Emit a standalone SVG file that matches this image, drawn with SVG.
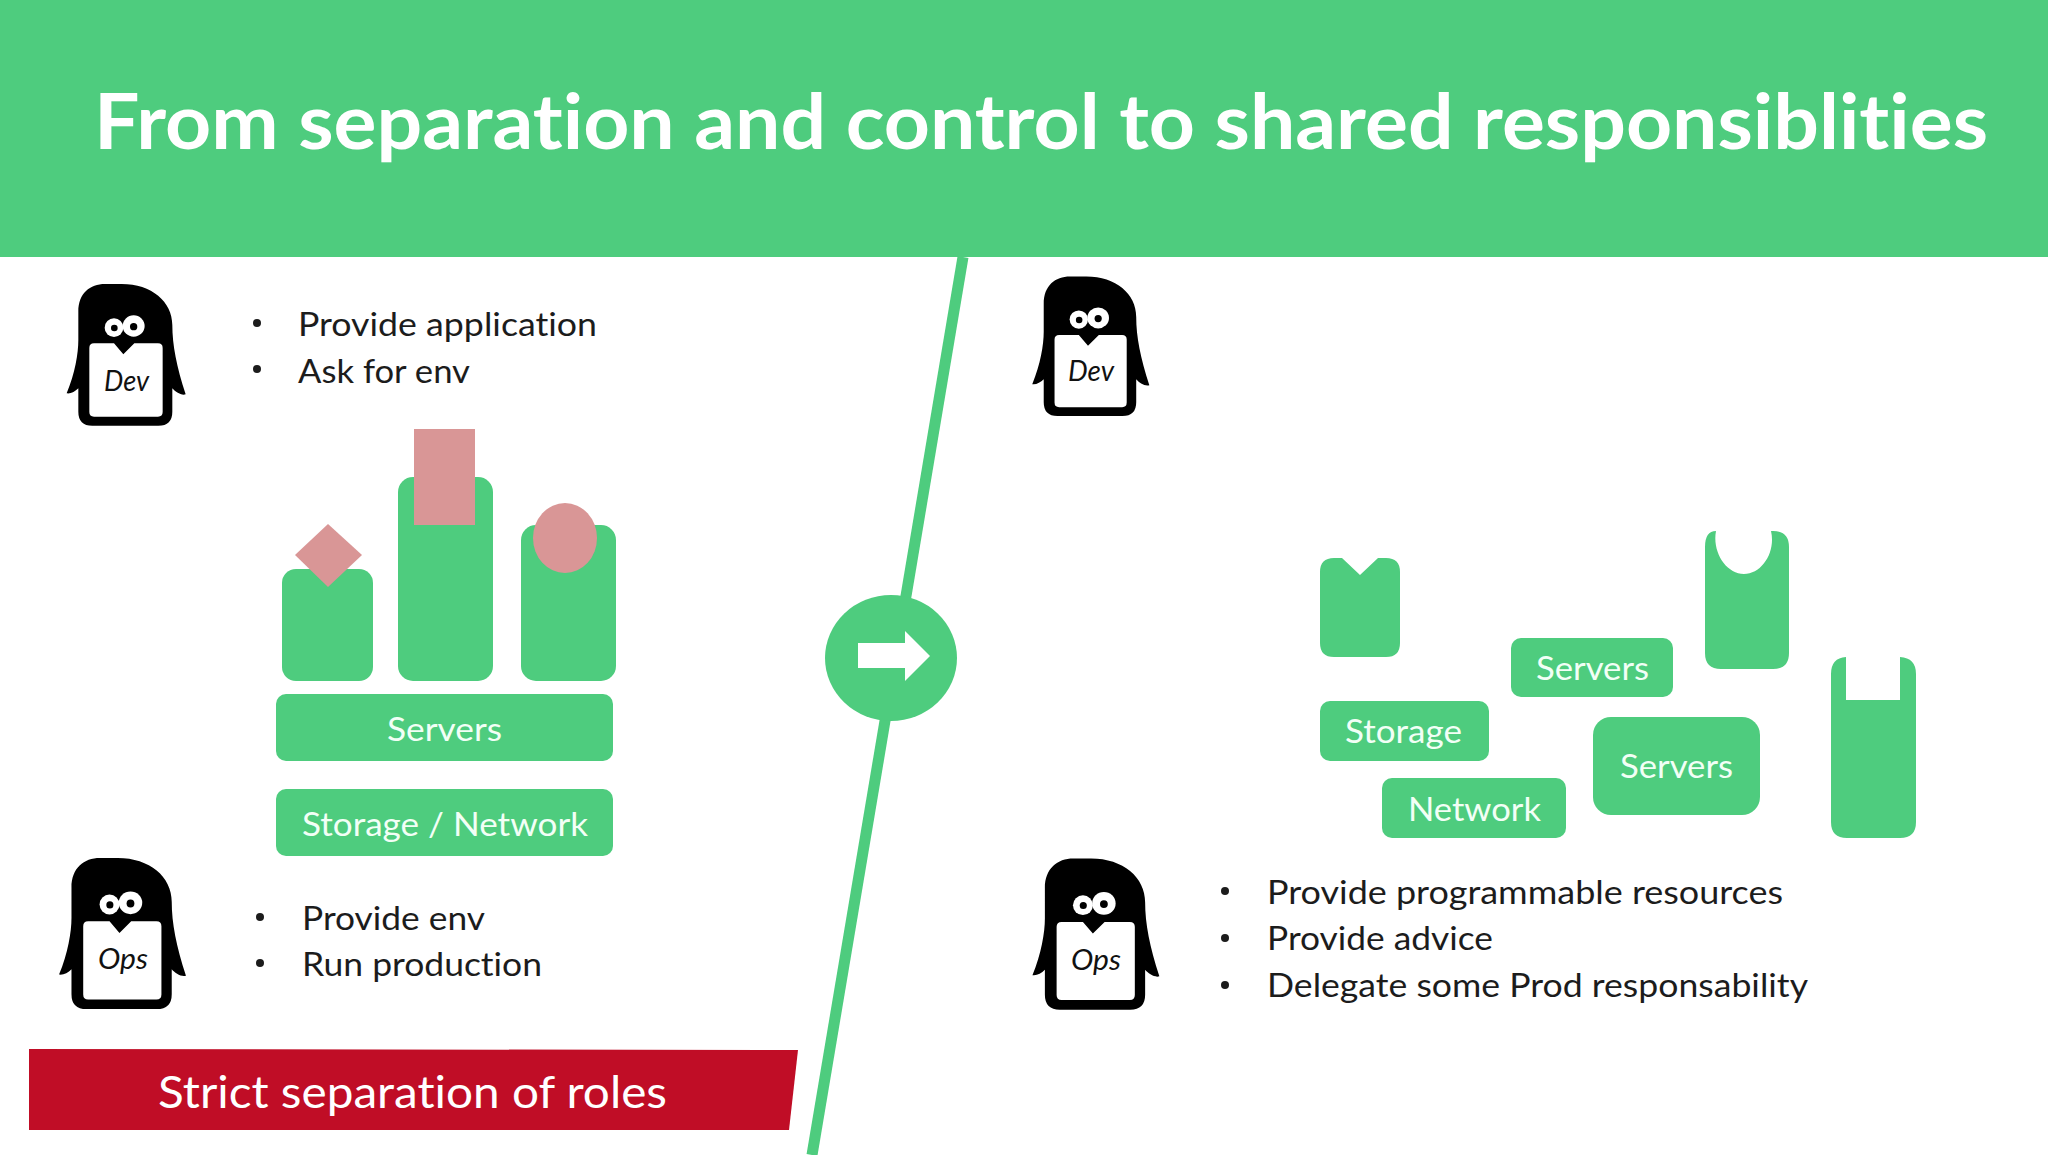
<svg xmlns="http://www.w3.org/2000/svg" xmlns:xlink="http://www.w3.org/1999/xlink" width="2048" height="1155" viewBox="0 0 2048 1155">
<style>
text{font-family:"Lato","Noto Sans",sans-serif;font-variant-ligatures:none;}
.g{fill:#4ecc7e;}
.p{fill:#d99696;}
.l{font-size:33px;fill:#1c1c1c;}
.w{font-size:33px;fill:#f2fff6;}
.n{font-size:29px;font-style:italic;fill:#111;}
</style>
<defs>
<g id="penguin">
<path fill="#000" d="M115 155C115 100 150 72 195 72L245 72C335 72 397 125 397 195C397 255 410 320 437 403C425 408 405 395 397 385L397 455Q397 497 355 497L157 497Q115 497 115 455L115 385C105 395 92 402 80 400C105 340 115 280 115 240Z"/>
<path fill="#fff" d="M148 264Q148 250 162 250L222 250L250 283L283 250L354 250Q368 250 368 264L368 456Q368 470 354 470L162 470Q148 470 148 456Z"/>
<ellipse fill="#fff" cx="222" cy="203" rx="28" ry="28"/>
<ellipse fill="#fff" cx="281" cy="198" rx="33" ry="32"/>
<circle fill="#000" cx="223" cy="204" r="10"/>
<circle fill="#000" cx="281" cy="200" r="11"/>
</g>
</defs>
<rect width="2048" height="1155" fill="#fff"/>
<g id="header">
<rect class="g" width="2048" height="257"/>
<text x="94" y="149" font-size="77" font-weight="700" fill="#fff" textLength="1894" lengthAdjust="spacingAndGlyphs">From separation and control to shared responsiblities</text>
</g>
<g id="connectors">
<line x1="963" y1="257" x2="812" y2="1155" stroke="#4ecc7e" stroke-width="11"/>
</g>
<g id="transition">
<ellipse class="g" cx="891" cy="658" rx="66" ry="63"/>
<polygon fill="#fff" points="858,643 905,643 905,631 930,656 905,681 905,668 858,668"/>
</g>
<g id="dev-left">
<use xlink:href="#penguin" href="#penguin" transform="translate(40,260) scale(0.3333)"/>
<text class="n" x="104" y="391" textLength="45" lengthAdjust="spacingAndGlyphs">Dev</text>
</g>
<g id="dev-left-list">
<circle cx="257" cy="323" r="4" fill="#1c1c1c"/>
<text class="l" x="298" y="336" textLength="299" lengthAdjust="spacingAndGlyphs">Provide application</text>
<circle cx="257" cy="369" r="4" fill="#1c1c1c"/>
<text class="l" x="298" y="383" textLength="172" lengthAdjust="spacingAndGlyphs">Ask for env</text>
</g>
<g id="app-small">
<rect class="g" x="282" y="569" width="91" height="112" rx="14"/>
<polygon class="p" points="328,524 362,555 328,587 295,555"/>
</g>
<g id="app-tall">
<rect class="g" x="398" y="477" width="95" height="204" rx="15"/>
<rect class="p" x="414" y="429" width="61" height="96"/>
</g>
<g id="app-medium">
<rect class="g" x="521" y="525" width="95" height="156" rx="15"/>
<ellipse class="p" cx="565" cy="538" rx="32" ry="35"/>
</g>
<g id="servers-left">
<rect class="g" x="276" y="694" width="337" height="67" rx="10"/>
<text class="w" x="387" y="741" textLength="115" lengthAdjust="spacingAndGlyphs">Servers</text>
</g>
<g id="storage-network-left">
<rect class="g" x="276" y="789" width="337" height="67" rx="10"/>
<text class="w" x="302" y="836" textLength="286" lengthAdjust="spacingAndGlyphs">Storage / Network</text>
</g>
<g id="ops-left">
<use xlink:href="#penguin" href="#penguin" transform="translate(30.6,832.4) scale(0.3555)"/>
<text class="n" x="98" y="969" textLength="50" lengthAdjust="spacingAndGlyphs">Ops</text>
</g>
<g id="ops-left-list">
<circle cx="260" cy="917" r="4" fill="#1c1c1c"/>
<text class="l" x="302" y="930" textLength="183" lengthAdjust="spacingAndGlyphs">Provide env</text>
<circle cx="260" cy="963" r="4" fill="#1c1c1c"/>
<text class="l" x="302" y="976" textLength="240" lengthAdjust="spacingAndGlyphs">Run production</text>
</g>
<g id="banner">
<polygon fill="#c00d26" points="29,1049 798,1050 789,1130 29,1130"/>
<text x="158" y="1108" font-size="45" fill="#fff" textLength="509" lengthAdjust="spacingAndGlyphs">Strict separation of roles</text>
</g>
<g id="dev-right">
<use xlink:href="#penguin" href="#penguin" transform="translate(1006,253) scale(0.328)"/>
<text class="n" x="1068" y="381" textLength="46" lengthAdjust="spacingAndGlyphs">Dev</text>
</g>
<g id="ops-right">
<use xlink:href="#penguin" href="#penguin" transform="translate(1004,833) scale(0.3555)"/>
<text class="n" x="1071" y="970" textLength="50" lengthAdjust="spacingAndGlyphs">Ops</text>
</g>
<g id="ops-right-list">
<circle cx="1225" cy="891" r="4" fill="#1c1c1c"/>
<text class="l" x="1267" y="904" textLength="516" lengthAdjust="spacingAndGlyphs">Provide programmable resources</text>
<circle cx="1225" cy="938" r="4" fill="#1c1c1c"/>
<text class="l" x="1267" y="950" textLength="226" lengthAdjust="spacingAndGlyphs">Provide advice</text>
<circle cx="1225" cy="985" r="4" fill="#1c1c1c"/>
<text class="l" x="1267" y="997" textLength="541" lengthAdjust="spacingAndGlyphs">Delegate some Prod responsability</text>
</g>
<g id="slot-diamond">
<path class="g" d="M1334 558L1342 558L1360 575L1378 558L1386 558Q1400 558 1400 572L1400 643Q1400 657 1386 657L1334 657Q1320 657 1320 643L1320 572Q1320 558 1334 558Z"/>
</g>
<g id="slot-circle">
<path class="g" d="M1716 531C1712 552 1726 574 1744 574C1762 574 1776 552 1771 531L1773 531Q1789 531 1789 547L1789 653Q1789 669 1773 669L1721 669Q1705 669 1705 653L1705 547Q1705 531 1716 531Z"/>
</g>
<g id="slot-rect">
<path class="g" d="M1846 657L1846 700L1900 700L1900 657Q1916 658 1916 674L1916 822Q1916 838 1900 838L1847 838Q1831 838 1831 822L1831 674Q1831 658 1846 657Z"/>
</g>
<g id="servers-right-1">
<rect class="g" x="1511" y="638" width="162" height="59" rx="10"/>
<text class="w" x="1536" y="680" textLength="113" lengthAdjust="spacingAndGlyphs">Servers</text>
</g>
<g id="storage-right">
<rect class="g" x="1320" y="701" width="169" height="60" rx="10"/>
<text class="w" x="1345" y="743" textLength="117" lengthAdjust="spacingAndGlyphs">Storage</text>
</g>
<g id="network-right">
<rect class="g" x="1382" y="778" width="184" height="60" rx="10"/>
<text class="w" x="1408" y="821" textLength="133" lengthAdjust="spacingAndGlyphs">Network</text>
</g>
<g id="servers-right-2">
<rect class="g" x="1593" y="717" width="167" height="98" rx="18"/>
<text class="w" x="1620" y="778" textLength="113" lengthAdjust="spacingAndGlyphs">Servers</text>
</g>
</svg>
